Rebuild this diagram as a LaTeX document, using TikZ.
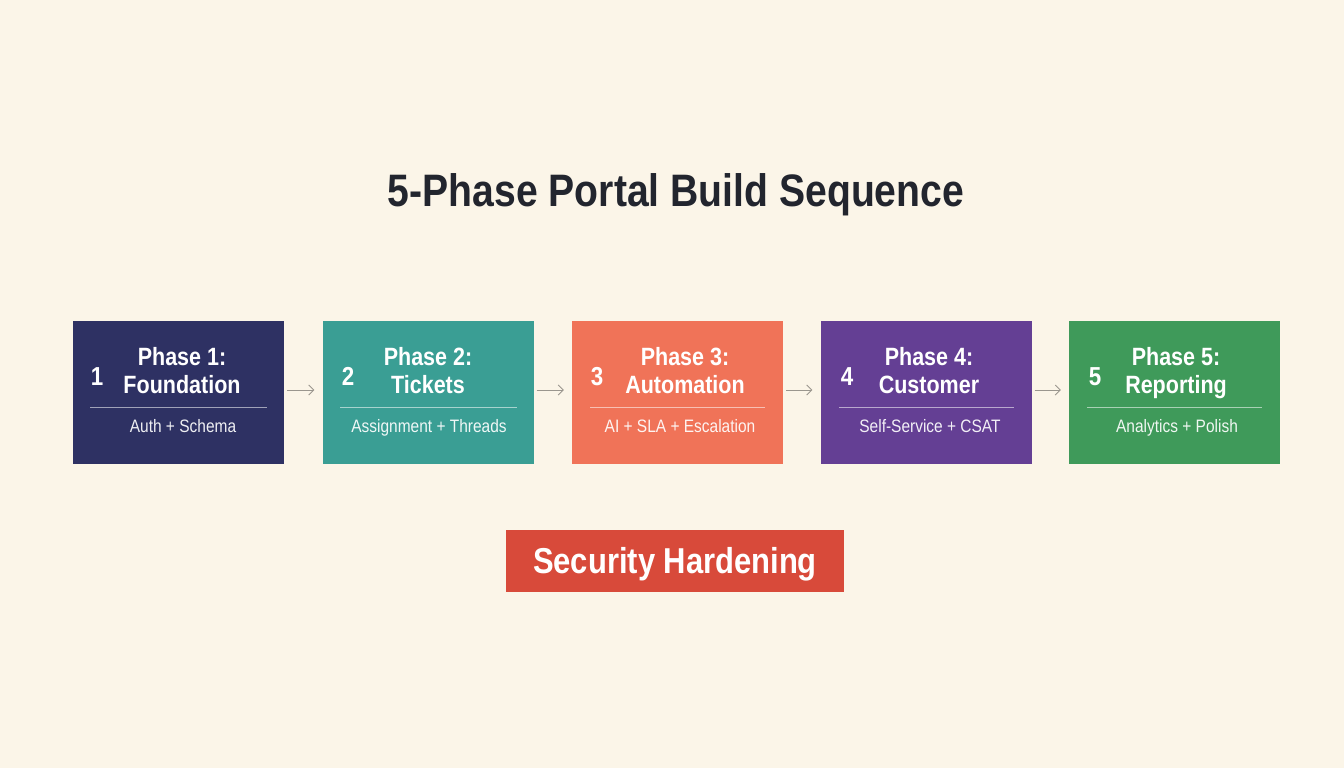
\documentclass[tikz,border=0pt]{standalone}
\usepackage{fontspec}
\setmainfont{Liberation Sans}
\newfontfamily\cond[FakeStretch=0.86]{Liberation Sans}
\usetikzlibrary{arrows.meta}
\definecolor{bg}{HTML}{FBF5E8}
\definecolor{ink}{HTML}{22252E}
\definecolor{cA}{HTML}{2E3163}
\definecolor{cB}{HTML}{3A9E94}
\definecolor{cC}{HTML}{F07358}
\definecolor{cD}{HTML}{643F94}
\definecolor{cE}{HTML}{3F9A5A}
\definecolor{cSec}{HTML}{D84A3A}
\definecolor{arr}{HTML}{9A968E}
\tikzset{
  phasebox/.style={draw=none, minimum width=211pt, minimum height=143pt, inner sep=0pt},
  num/.style={text=white, anchor=base, inner sep=0pt, font=\cond\bfseries\fontsize{26}{28}\selectfont},
  ptitle/.style={text=white, align=center, anchor=south, inner sep=0pt, text depth=0pt, font=\cond\bfseries\fontsize{25}{28}\selectfont},
  psub/.style={text=white, text opacity=0.92, anchor=base, inner sep=0pt, font=\cond\fontsize{18}{20}\selectfont},
  sepline/.style={draw=white, draw opacity=0.55, line width=1pt},
  flow/.style={draw=arr, line width=0.8pt, -{Straight Barb[length=5pt,width=10pt]}, shorten <=3pt, shorten >=8pt}
}
\begin{document}
\begin{tikzpicture}[x=1pt,y=-1pt]
\fill[bg] (0,0) rectangle (1344,768);
\useasboundingbox (0,0) rectangle (1344,768);
\node[text=ink, anchor=base, inner sep=0pt, font=\cond\bfseries\fontsize{45.5}{50}\selectfont] (title) at (676,206) {5-Phase Portal Build Sequence};
% boxes
\node[phasebox, fill=cA] (b1) at (178.5,392.5) {};
\node[phasebox, fill=cB] (b2) at (428,392.5) {};
\node[phasebox, fill=cC] (b3) at (677.5,392.5) {};
\node[phasebox, fill=cD] (b4) at (926,392.5) {};
\node[phasebox, fill=cE] (b5) at (1174.5,392.5) {};
% numbers
\node[num] (n1) at (97,385) {1};
\node[num] (n2) at (348,385) {2};
\node[num] (n3) at (597,385) {3};
\node[num] (n4) at (847,385) {4};
\node[num] (n5) at (1095,385) {5};
% titles
\node[ptitle] (t1) at (182,394) {Phase 1:\\Foundation};
\node[ptitle] (t2) at (428,394) {Phase 2:\\Tickets};
\node[ptitle] (t3) at (685,394) {Phase 3:\\Automation};
\node[ptitle] (t4) at (929,394) {Phase 4:\\Customer};
\node[ptitle] (t5) at (1176,394) {Phase 5:\\Reporting};
% separators
\draw[sepline] (90,407) -- (267,407);
\draw[sepline] (340,407) -- (517,407);
\draw[sepline] (590,407) -- (765,407);
\draw[sepline] (839,407) -- (1014,407);
\draw[sepline] (1087,407) -- (1262,407);
% subtitles
\node[psub] (s1) at (183,432) {Auth + Schema};
\node[psub] (s2) at (429,432) {Assignment + Threads};
\node[psub] (s3) at (680,432) {AI + SLA + Escalation};
\node[psub] (s4) at (930,432) {Self-Service + CSAT};
\node[psub] (s5) at (1177,432) {Analytics + Polish};
% arrows
\draw[flow] (b1.east |- 0,390) -- (b2.west |- 0,390);
\draw[flow] (b2.east |- 0,390) -- (b3.west |- 0,390);
\draw[flow] (b3.east |- 0,390) -- (b4.west |- 0,390);
\draw[flow] (b4.east |- 0,390) -- (b5.west |- 0,390);
% security
\node[fill=cSec, minimum width=338pt, minimum height=62pt, inner sep=0pt] (sec) at (675,561) {};
\node[text=white, anchor=base, inner sep=0pt, font=\cond\bfseries\fontsize{36}{40}\selectfont] (sect) at (675,573) {Security Hardening};
\end{tikzpicture}
\end{document}
